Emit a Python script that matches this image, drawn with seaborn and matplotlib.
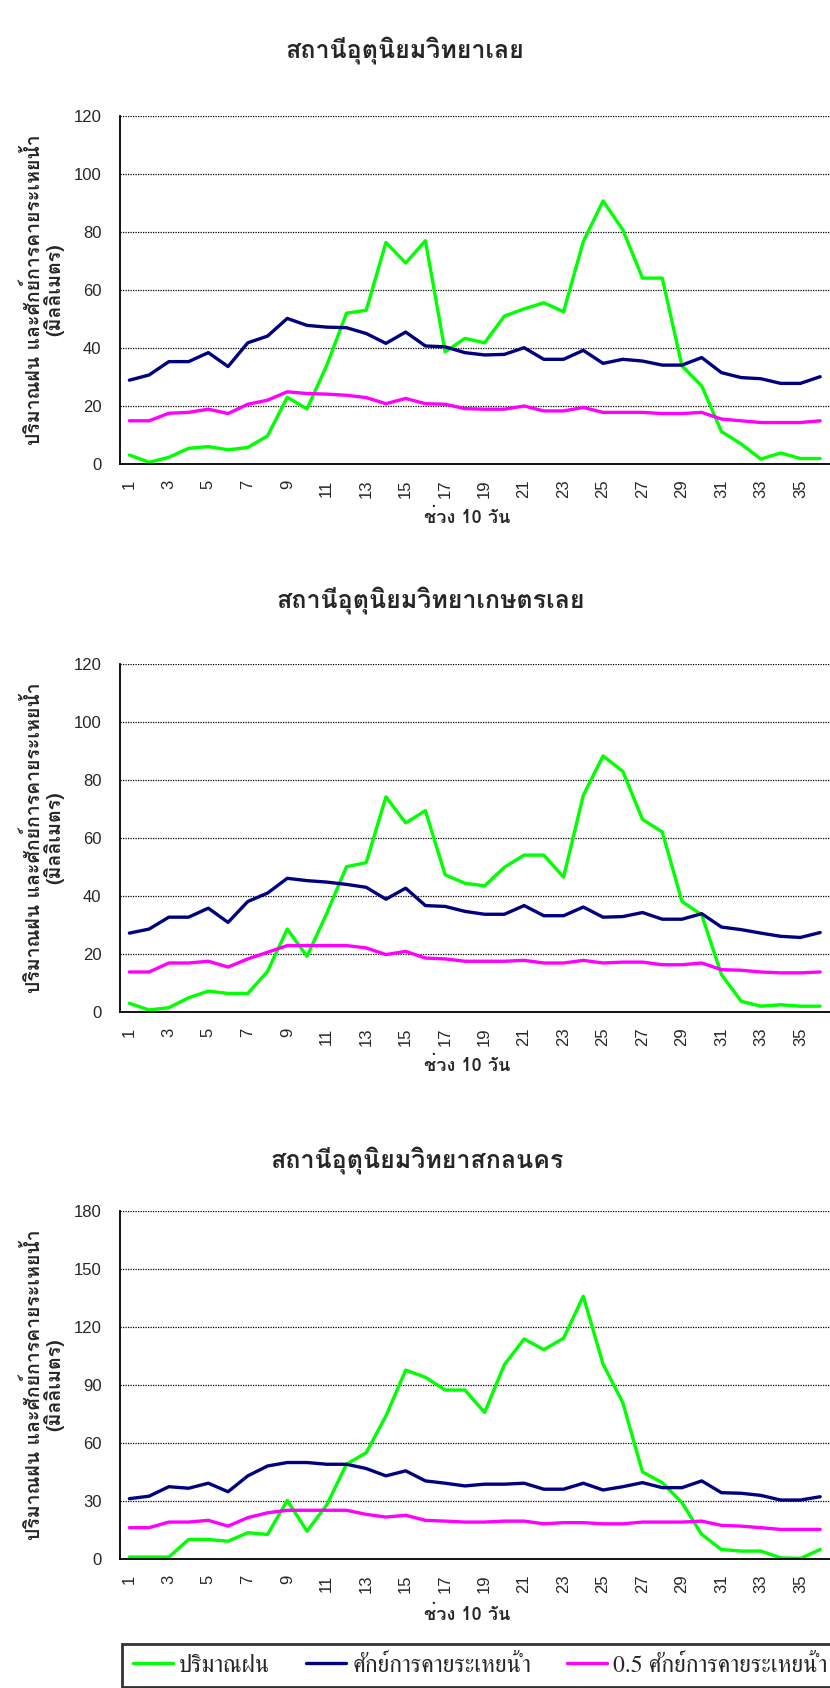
import numpy as np
import pandas as pd
import matplotlib
matplotlib.use("Agg")
import matplotlib.pyplot as plt
import seaborn as sns

periods = list(range(1, 37))

# สถานีอุตุนิยมวิทยาเลย
loei_rain = [3.1, 0.6, 2.3, 5.4, 6.0, 4.9, 5.7, 9.7, 23.0, 19.0, 34.0, 52.0,
             53.0, 76.4, 69.3, 77.0, 38.7, 43.3, 41.8, 51.0, 53.5, 55.6, 52.5, 76.7,
             90.7, 80.8, 64.1, 64.1, 33.8, 26.9, 11.2, 6.9, 1.7, 3.8, 1.9, 1.9]
loei_pet = [28.9, 30.7, 35.3, 35.3, 38.4, 33.6, 41.8, 44.1, 50.2, 47.8, 47.2, 47.0,
            45.0, 41.6, 45.5, 40.7, 40.4, 38.4, 37.6, 37.8, 40.1, 36.1, 36.1, 39.2,
            34.7, 36.1, 35.5, 34.1, 34.1, 36.7, 31.5, 29.8, 29.4, 27.8, 27.8, 30.1]
loei_half = [14.9, 14.9, 17.5, 17.8, 18.9, 17.4, 20.6, 22.0, 24.9, 24.3, 24.1, 23.7,
             22.9, 20.8, 22.6, 20.8, 20.6, 19.1, 18.9, 18.9, 20.0, 18.3, 18.3, 19.5,
             17.8, 17.8, 17.8, 17.4, 17.4, 17.8, 15.5, 14.9, 14.3, 14.3, 14.3, 14.9]

# สถานีอุตุนิยมวิทยาเกษตรเลย
agro_rain = [3.0, 0.7, 1.5, 4.9, 7.2, 6.4, 6.4, 14.0, 28.6, 19.2, 34.0, 50.1,
             51.5, 74.2, 65.2, 69.4, 47.3, 44.4, 43.5, 49.9, 54.1, 54.1, 46.5, 74.7,
             88.3, 83.0, 66.4, 62.1, 38.1, 33.5, 12.9, 3.7, 2.0, 2.5, 2.0, 2.0]
agro_pet = [27.2, 28.6, 32.7, 32.7, 35.8, 30.9, 38.1, 41.0, 46.1, 45.3, 44.8, 44.0,
            43.0, 38.9, 42.7, 36.7, 36.4, 34.7, 33.7, 33.7, 36.7, 33.2, 33.2, 36.2,
            32.7, 32.9, 34.3, 32.0, 32.0, 33.9, 29.3, 28.4, 27.2, 26.1, 25.7, 27.4]
agro_half = [13.8, 13.8, 16.9, 16.9, 17.5, 15.5, 18.3, 20.6, 22.9, 22.9, 22.9, 22.9,
             22.1, 19.8, 20.9, 18.6, 18.3, 17.5, 17.5, 17.5, 17.8, 16.9, 16.9, 17.8,
             16.9, 17.2, 17.2, 16.3, 16.3, 16.9, 14.6, 14.4, 13.8, 13.5, 13.5, 13.8]

# สถานีอุตุนิยมวิทยาสกลนคร
sakon_rain = [1.0, 1.0, 1.0, 10.1, 10.1, 9.2, 13.6, 12.7, 30.3, 14.4, 28.0, 49.0,
              55.0, 74.0, 97.7, 94.0, 87.4, 87.4, 75.8, 100.5, 113.8, 108.3, 114.2, 135.9,
              100.8, 80.9, 45.0, 39.5, 29.1, 12.7, 4.9, 4.1, 4.1, 0.6, 0.3, 4.9]
sakon_pet = [31.2, 32.5, 37.4, 36.6, 39.2, 34.8, 43.0, 48.1, 49.9, 49.9, 49.0, 49.0,
             46.8, 43.0, 45.6, 40.4, 39.2, 37.8, 38.7, 38.7, 39.2, 36.1, 36.1, 39.2,
             35.7, 37.4, 39.5, 36.9, 36.9, 40.4, 34.3, 34.0, 32.9, 30.5, 30.5, 32.2]
sakon_half = [16.2, 16.2, 19.1, 19.1, 20.0, 17.0, 21.4, 23.9, 25.2, 25.2, 25.2, 25.2,
              23.1, 21.7, 22.6, 20.0, 19.6, 19.1, 19.1, 19.6, 19.6, 18.2, 18.8, 18.8,
              18.2, 18.2, 19.1, 19.1, 19.1, 19.6, 17.4, 17.0, 16.2, 15.3, 15.3, 15.3]

stations = [
    ("สถานีอุตุนิยมวิทยาเลย", loei_rain, loei_pet, loei_half, 120, 20),
    ("สถานีอุตุนิยมวิทยาเกษตรเลย", agro_rain, agro_pet, agro_half, 120, 20),
    ("สถานีอุตุนิยมวิทยาสกลนคร", sakon_rain, sakon_pet, sakon_half, 180, 30),
]
series_names = ["ปริมาณฝน", "ศักย์การคายระเหยน้ำ", "0.5 ศักย์การคายระเหยน้ำ"]
colors = ["#00ff00", "#000080", "#ff00ff"]

sns.set_style("white")
plt.rcParams["font.family"] = ["Loma", "DejaVu Sans"]
tick_font = ["Liberation Sans", "DejaVu Sans"]
thai_bold = ["Loma", "DejaVu Sans"]
legend_font = ["FreeSerif", "DejaVu Serif"]

W, H = 830, 1688
fig = plt.figure(figsize=(W / 100, H / 100), dpi=100)
# pixel layout: axes top/bottom, title centre x/y, x-label y
layout = [(116, 464, 405, 50, 518), (664, 1012, 431, 600, 1066), (1211, 1559, 417, 1160, 1615)]
left = 119.5

for (title, rain, pet, half, ymax, ystep), (top, bot, tx, ty, xly) in zip(stations, layout):
    ax = fig.add_axes([left / W, 1 - bot / H, (W - left) / W, (bot - top) / H])
    df = pd.DataFrame({"period": periods, series_names[0]: rain,
                       series_names[1]: pet, series_names[2]: half})
    for name, c in zip(series_names, colors):
        sns.lineplot(data=df, x="period", y=name, ax=ax, color=c, lw=2.4, label=name,
                     legend=False)
    ax.set_xlim(0.5, 36.5)
    ax.set_ylim(0, ymax)
    ax.set_yticks(np.arange(0, ymax + 1, ystep))
    ax.set_xticks(periods[::2])
    ax.set_xticklabels([str(p) for p in periods[::2]], rotation=90, family=tick_font)
    ax.set_yticklabels([str(v) for v in range(0, ymax + 1, ystep)], family=tick_font)
    ax.set_xticks(np.arange(0.5, 37, 1), minor=True)
    ax.tick_params(axis="x", which="major", length=0, pad=11, labelsize=12)
    ax.tick_params(axis="x", which="minor", length=5, width=1.2, color="black",
                   direction="out")
    ax.tick_params(axis="y", length=5, width=1.2, color="black", direction="out",
                   labelsize=12, pad=8)
    ax.yaxis.grid(True, ls=(0, (1, 1)), color="black", lw=0.9)
    ax.xaxis.grid(False)
    for s in ["top", "right"]:
        ax.spines[s].set_visible(False)
    for s in ["left", "bottom"]:
        ax.spines[s].set_color("black")
        ax.spines[s].set_linewidth(1.3)
    ax.set_xlabel("")
    ax.set_ylabel("ปริมาณฝน และศักย์การคายระเหยน้ำ\n(มิลลิเมตร)", fontsize=14,
                  fontweight="bold", family=thai_bold, linespacing=0.95)
    ax.yaxis.set_label_coords((64 - left) / (W - left), 0.5)
    fig.text(tx / W, 1 - ty / H, title, ha="center", va="center", fontsize=18,
             fontweight="bold", family=thai_bold)
    fig.text(467 / W, 1 - xly / H, "ช่วง 10 วัน", ha="center", va="center",
             fontsize=13, fontweight="bold", family=thai_bold)

handles, labels = ax.get_legend_handles_labels()
leg = fig.legend(handles, labels, loc="lower left",
                 bbox_to_anchor=(122 / W, 0.0005, 1 - 122 / W + 0.01, 0.03),
                 mode="expand", ncol=3, frameon=True, handlelength=1.7,
                 columnspacing=0.6, handletextpad=0.25, borderpad=0.45,
                 borderaxespad=0, fancybox=False,
                 prop={"family": legend_font, "size": 17})
leg.get_frame().set_edgecolor("black")
leg.get_frame().set_linewidth(2)

fig.savefig("out.png", dpi=100)
